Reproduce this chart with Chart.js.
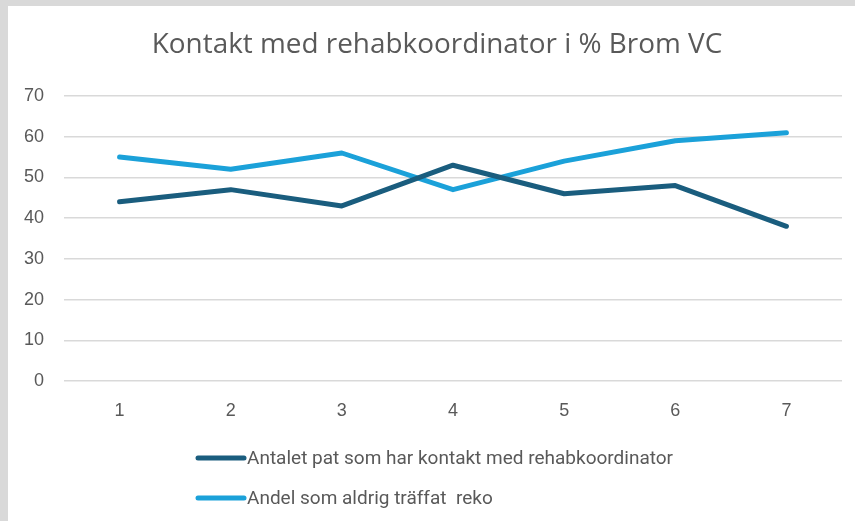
<!DOCTYPE html>
<html>
<head>
<meta charset="utf-8">
<script src="https://cdn.jsdelivr.net/npm/chart.js@4"></script>
<style>
  html, body { margin: 0; padding: 0; background: #d9d9d9; }
  #panel { position: absolute; left: 8px; top: 6px; width: 847px; height: 515px; background: #fff; }
  canvas { display: block; }
</style>
</head>
<body>
<div id="panel"><canvas id="myLineChart" width="847" height="515"></canvas></div>
<script>
let categories = ['1', '2', '3', '4', '5', '6', '7'];
let antalet = [44, 47, 43, 53, 46, 48, 38];
let andel = [55, 52, 56, 47, 54, 59, 61];
let seriesNames = ['Antalet pat som har kontakt med rehabkoordinator', 'Andel som aldrig träffat  reko'];
let colors = ['#1a5d7e', '#1ba1d9'];
let chartTitle = 'Kontakt med rehabkoordinator i % Brom VC';

// title + stacked legend drawn by hand, the built-in legend puts both on one row
let extras = {
    id: 'extras',
    afterDraw(chart) {
        let c = chart.ctx;
        c.save();
        c.fillStyle = '#595959';
        // fit title to roughly the width it has in the original
        let size = 28;
        c.font = size + 'px "Open Sans"';
        size = size * 570 / c.measureText(chartTitle).width;
        c.font = size.toFixed(1) + 'px "Open Sans"';
        c.textAlign = 'center';
        c.textBaseline = 'middle';
        c.fillText(chartTitle, 429, 39);

        c.font = '19px Roboto';
        c.textAlign = 'left';
        chart.data.datasets.forEach((ds, i) => {
            let y = 452 + i * 40;
            c.strokeStyle = ds.borderColor;
            c.lineWidth = 5;
            c.lineCap = 'round';
            c.beginPath();
            c.moveTo(190, y);
            c.lineTo(236, y);
            c.stroke();
            c.fillText(ds.label, 239, y + 1);
        });
        c.restore();
    }
};

let ctx = document.getElementById('myLineChart').getContext('2d');
let myLineChart = new Chart(ctx, {
    type: 'line',
    data: {
        labels: categories,
        datasets: [{
            label: seriesNames[0],
            data: antalet,
            borderColor: colors[0],
            backgroundColor: colors[0],
        }, {
            label: seriesNames[1],
            data: andel,
            borderColor: colors[1],
            backgroundColor: colors[1],
        }]
    },
    options: {
        responsive: false,
        animation: false,
        layout: { padding: { left: 0, right: 13, top: 90, bottom: 80 } },
        elements: {
            line: { borderWidth: 5, borderCapStyle: 'round', borderJoinStyle: 'round', tension: 0 },
            point: { radius: 0 }
        },
        plugins: {
            legend: { display: false },
            title: { display: false },
            tooltip: { enabled: false }
        },
        scales: {
            x: {
                offset: true,
                grid: { display: false, drawTicks: false },
                border: { display: false },
                ticks: { color: '#595959', font: { family: 'Liberation Sans', size: 18 }, padding: 19 },
                afterFit(scale) { scale.height = 60; }
            },
            y: {
                min: 0,
                max: 70,
                grid: { color: '#d9d9d9', lineWidth: 1.5, drawTicks: false },
                border: { display: false },
                ticks: { stepSize: 10, color: '#595959', font: { family: 'Liberation Sans', size: 18 }, padding: 20 },
                afterFit(scale) { scale.width = 56; }
            }
        }
    },
    plugins: [extras]
});
</script>
</body>
</html>
